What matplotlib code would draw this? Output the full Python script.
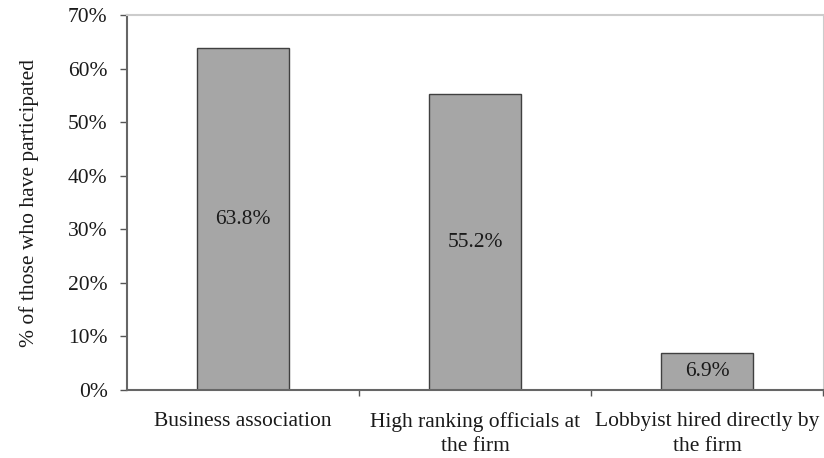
import matplotlib.pyplot as plt
from matplotlib.ticker import FixedLocator, PercentFormatter, NullFormatter

categories = ["Business association", "High ranking officials at\nthe firm",
              "Lobbyist hired directly by\nthe firm"]
values = [63.8, 55.2, 6.9]
value_labels = ["63.8%", "55.2%", "6.9%"]
y_ticks = [0, 10, 20, 30, 40, 50, 60, 70]

plt.rcParams["font.family"] = "Liberation Serif"
fs = 15.5

fig = plt.figure(figsize=(8.24, 4.58), dpi=100)
ax = fig.add_axes([0.1541, 0.1485, 0.8447, 0.8187])

x = range(len(categories))
bars = ax.bar(x, values, width=0.4, color="#a6a6a6", edgecolor="#404040", linewidth=1.0)

for b, lab in zip(bars, value_labels):
    ax.text(b.get_x() + b.get_width() / 2, b.get_height() / 2, lab,
            ha="center", va="center", fontsize=fs, color="#1a1a1a")

ax.set_xlim(-0.5, len(categories) - 0.5)
ax.set_ylim(0, 70)
ax.set_yticks(y_ticks)
ax.yaxis.set_major_formatter(PercentFormatter(decimals=0))
ax.tick_params(axis="y", direction="out", length=5, width=1, color="#555555",
               labelsize=fs, pad=9, labelcolor="#1a1a1a")

ax.set_xticks(list(x))
ax.set_xticklabels(categories, fontsize=fs, color="#1a1a1a", linespacing=1.38)
ax.tick_params(axis="x", which="major", length=0, pad=16)
ax.xaxis.set_minor_locator(FixedLocator([0.5, 1.5, 2.5]))
ax.xaxis.set_minor_formatter(NullFormatter())
ax.tick_params(axis="x", which="minor", direction="out", length=4, width=1, color="#555555")

ax.set_ylabel("% of those who have participated", fontsize=fs, color="#1a1a1a", labelpad=21)

ax.spines["left"].set_color("#666666")
ax.spines["bottom"].set_color("#666666")
ax.spines["left"].set_linewidth(1.5)
ax.spines["bottom"].set_linewidth(1.5)
ax.spines["top"].set_color("#cccccc")
ax.spines["right"].set_color("#cccccc")
ax.spines["top"].set_linewidth(1.5)

fig.savefig("out.png", dpi=100)
